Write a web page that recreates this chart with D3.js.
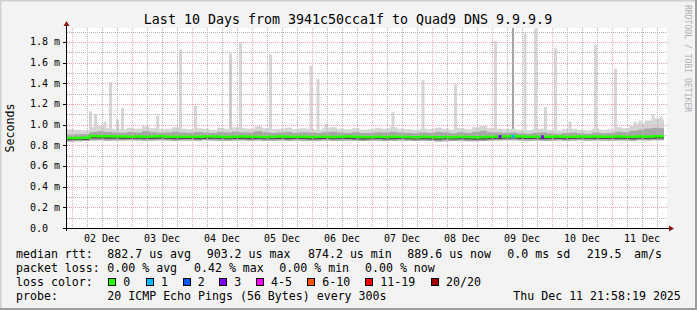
<!DOCTYPE html>
<html>
<head>
<meta charset="utf-8">
<script src="https://cdn.jsdelivr.net/npm/d3@7"></script>
<style>
  body { margin: 0; background: #f3f3f3; }
  svg { display: block; }
  text { font-family: "DejaVu Sans Mono", monospace; fill: #000; }
</style>
</head>
<body>
<svg width="697" height="310"></svg>
<script>
// periodo del grafico (10 dias, muestras de 3 h)
const endTime = Date.UTC(2025, 11, 11, 21, 58, 19)
const startTime = endTime - 10 * 86400000
const sampleHours = 3
const lastDataHour = 238.8

// mediana del rtt (ms)
const median = [
  0.870, 0.871, 0.872, 0.889, 0.888, 0.887, 0.886, 0.885,
  0.884, 0.886, 0.883, 0.885, 0.887, 0.884, 0.882, 0.883,
  0.884, 0.882, 0.885, 0.886, 0.883, 0.881, 0.884, 0.885,
  0.882, 0.884, 0.881, 0.883, 0.885, 0.882, 0.884, 0.883,
  0.880, 0.882, 0.884, 0.881, 0.883, 0.885, 0.882, 0.880,
  0.881, 0.883, 0.880, 0.882, 0.884, 0.881, 0.879, 0.882,
  0.880, 0.878, 0.881, 0.879, 0.882, 0.880, 0.878, 0.880,
  0.882, 0.884, 0.886, 0.888, 0.885, 0.883, 0.884, 0.882,
  0.883, 0.885, 0.882, 0.884, 0.886, 0.883, 0.885, 0.884,
  0.883, 0.885, 0.884, 0.882, 0.886, 0.884, 0.887, 0.888
]
// humo: ping minimo, borde de la banda oscura, banda media, borde claro
const smokeLo = [
  0.838, 0.840, 0.842, 0.846, 0.848, 0.845, 0.847, 0.846,
  0.848, 0.846, 0.845, 0.847, 0.849, 0.846, 0.844, 0.846,
  0.847, 0.845, 0.848, 0.846, 0.844, 0.843, 0.846, 0.847,
  0.845, 0.846, 0.843, 0.845, 0.847, 0.844, 0.846, 0.845,
  0.843, 0.845, 0.846, 0.844, 0.845, 0.847, 0.844, 0.842,
  0.843, 0.845, 0.842, 0.844, 0.846, 0.843, 0.841, 0.844,
  0.842, 0.838, 0.840, 0.841, 0.843, 0.840, 0.839, 0.842,
  0.845, 0.846, 0.848, 0.850, 0.847, 0.845, 0.846, 0.844,
  0.845, 0.847, 0.844, 0.846, 0.848, 0.845, 0.847, 0.846,
  0.845, 0.847, 0.846, 0.844, 0.848, 0.846, 0.849, 0.850
]
const smokeDarkLo = [
  0.850, 0.851, 0.852, 0.866, 0.865, 0.864, 0.863, 0.862,
  0.861, 0.863, 0.860, 0.862, 0.864, 0.861, 0.859, 0.860,
  0.861, 0.859, 0.862, 0.863, 0.860, 0.858, 0.861, 0.862,
  0.859, 0.861, 0.858, 0.860, 0.862, 0.859, 0.861, 0.860,
  0.857, 0.859, 0.861, 0.858, 0.860, 0.862, 0.859, 0.857,
  0.858, 0.860, 0.857, 0.859, 0.861, 0.858, 0.856, 0.859,
  0.857, 0.855, 0.858, 0.856, 0.859, 0.857, 0.855, 0.857,
  0.859, 0.861, 0.863, 0.865, 0.862, 0.860, 0.861, 0.859,
  0.860, 0.862, 0.859, 0.861, 0.863, 0.860, 0.862, 0.861,
  0.860, 0.862, 0.861, 0.859, 0.863, 0.861, 0.864, 0.865
]
const smokeMidHi = [
  0.905, 0.908, 0.910, 0.930, 0.935, 0.928, 0.925, 0.922,
  0.930, 0.924, 0.935, 0.926, 0.922, 0.925, 0.932, 0.924,
  0.922, 0.928, 0.925, 0.918, 0.930, 0.924, 0.932, 0.926,
  0.924, 0.935, 0.926, 0.920, 0.924, 0.930, 0.920, 0.926,
  0.924, 0.918, 0.926, 0.932, 0.924, 0.920, 0.926, 0.918,
  0.920, 0.926, 0.924, 0.932, 0.924, 0.920, 0.916, 0.924,
  0.920, 0.928, 0.924, 0.916, 0.926, 0.920, 0.932, 0.940,
  0.926, 0.924, 0.920, 0.924, 0.916, 0.912, 0.920, 0.924,
  0.916, 0.912, 0.920, 0.924, 0.916, 0.912, 0.924, 0.916,
  0.920, 0.932, 0.926, 0.940, 0.950, 0.962, 0.970, 0.965
]
const smokeHi = [
  0.955, 0.950, 0.945, 0.975, 0.990, 0.965, 0.960, 0.955,
  0.970, 0.960, 0.985, 0.965, 0.955, 0.960, 0.975, 0.960,
  0.955, 0.965, 0.960, 0.950, 0.970, 0.960, 0.975, 0.965,
  0.960, 0.985, 0.965, 0.955, 0.960, 0.970, 0.955, 0.965,
  0.960, 0.950, 0.965, 0.975, 0.960, 0.955, 0.965, 0.950,
  0.955, 0.965, 0.960, 0.975, 0.960, 0.955, 0.950, 0.960,
  0.955, 0.970, 0.960, 0.950, 0.965, 0.955, 0.975, 0.990,
  0.965, 0.960, 0.955, 0.960, 0.950, 0.945, 0.955, 0.960,
  0.950, 0.945, 0.955, 0.960, 0.950, 0.945, 0.960, 0.950,
  0.955, 0.975, 0.965, 0.990, 1.010, 1.040, 1.060, 1.050
]

// picos (horas desde el inicio, ms)
const spikeHours = [9.4, 11.4, 15.2, 17.4, 20.2, 22.2, 36.3, 45.4, 51.4, 65.4, 69.4, 81.4, 97.6, 100.4, 103.6,
  130.4, 142.4, 155.4, 171.4, 183.2, 187.4, 191.4, 195.4, 201.2, 211.4, 219.4, 227.2, 229.2, 234.4, 237.6]
const spikeMax = [1.13, 1.10, 1.03, 1.41, 1.05, 1.16, 1.09, 1.73, 1.18, 1.69, 1.80, 1.68, 1.57, 1.44, 1.01,
  1.12, 1.43, 1.39, 1.81, 1.89, 1.93, 1.17, 1.74, 1.03, 1.77, 1.54, 1.03, 1.04, 1.10, 1.08]
const darkSpikeHours = [65.4, 178.4]
const darkSpikeMax = [1.63, 1.95]

// perdidas de paquetes
const lossHours = [173.2, 178.4, 190.2]
const lossCount = [3, 1, 3]

// ejes y leyenda
const yTicks = [0, 0.2, 0.4, 0.6, 0.8, 1.0, 1.2, 1.4, 1.6, 1.8]
const yTickLabels = ["0.0", "0.2 m", "0.4 m", "0.6 m", "0.8 m", "1.0 m", "1.2 m", "1.4 m", "1.6 m", "1.8 m"]
const yMinor = [0.1, 0.3, 0.5, 0.7, 0.9, 1.1, 1.3, 1.5, 1.7, 1.9]
const lossLabels = ["0", "1", "2", "3", "4-5", "6-10", "11-19", "20/20"]
const lossColors = ["#26ff00", "#00b8ff", "#0059ff", "#7e00ff", "#ff00ff", "#ff5500", "#ff0000", "#a10000"]

const svgWidth = 697
const svgHeight = 310
const plotLeft = 67
const plotRight = 667
const plotTop = 28
const plotBottom = 228

const svg = d3.select("svg")
const hour = 3600000

const xScale = d3.scaleUtc([new Date(startTime), new Date(endTime)], [plotLeft, plotRight])
const yScale = d3.scaleLinear([0, 1.935], [plotBottom, plotTop])

// fondo y borde
svg.append("rect").attr("width", svgWidth).attr("height", svgHeight).attr("fill", "#f3f3f3")
svg.append("path").attr("d", `M0.5,${svgHeight} V0.5 H${svgWidth}`).attr("stroke", "#d0d0d0").attr("stroke-width", 2).attr("fill", "none")
svg.append("path").attr("d", `M0,${svgHeight - 1} H${svgWidth - 1} V0`).attr("stroke", "#9e9e9e").attr("stroke-width", 2).attr("fill", "none")
svg.append("rect")
  .attr("x", plotLeft).attr("y", plotTop)
  .attr("width", plotRight - plotLeft).attr("height", plotBottom - plotTop)
  .attr("fill", "#ffffff")

svg.append("clipPath").attr("id", "plot")
  .append("rect").attr("x", plotLeft).attr("y", plotTop)
  .attr("width", plotRight - plotLeft).attr("height", plotBottom - plotTop)

// datos
const samples = median.map((m, i) => ({
  t: new Date(startTime + i * sampleHours * hour),
  med: m, lo: smokeLo[i], dark: smokeDarkLo[i], mid: smokeMidHi[i], hi: smokeHi[i]
}))
samples.push({ ...samples[samples.length - 1], t: new Date(startTime + lastDataHour * hour) })

const chart = svg.append("g").attr("clip-path", "url(#plot)")

// picos
chart.selectAll(".spike")
  .data(spikeHours.map((h, i) => ({ h, v: spikeMax[i] })))
  .join("rect")
    .attr("x", d => xScale(new Date(startTime + d.h * hour)) - 1.5)
    .attr("width", 3)
    .attr("y", d => yScale(d.v))
    .attr("height", d => yScale(0.9) - yScale(d.v))
    .attr("fill", "#d6d6d6")

chart.selectAll(".dspike")
  .data(darkSpikeHours.map((h, i) => ({ h, v: darkSpikeMax[i] })))
  .join("rect")
    .attr("x", d => xScale(new Date(startTime + d.h * hour)) - 1)
    .attr("width", 2)
    .attr("y", d => yScale(d.v))
    .attr("height", d => yScale(0.9) - yScale(d.v))
    .attr("fill", (d, i) => i === 0 ? "#c6c6c6" : "#a4a4a4")

// humo
const band = (lo, hi, color) => {
  chart.append("path")
    .datum(samples)
    .attr("fill", color)
    .attr("d", d3.area()
      .curve(d3.curveStepAfter)
      .x(d => xScale(d.t))
      .y0(d => yScale(d[lo]))
      .y1(d => yScale(d[hi])))
}
band("lo", "hi", "#d4d4d4")
band("lo", "mid", "#a6a6a6")
band("dark", "med", "#505050")

// grid
const grid = svg.append("g").attr("shape-rendering", "crispEdges").attr("stroke-dasharray", "1,1")
const sixHours = d3.utcHour.every(6).range(new Date(startTime), new Date(endTime))
grid.selectAll(".vmin").data(sixHours.filter(d => d.getUTCHours() !== 0)).join("line")
  .attr("x1", d => Math.round(xScale(d)) + 0.5).attr("x2", d => Math.round(xScale(d)) + 0.5)
  .attr("y1", plotTop).attr("y2", plotBottom)
  .attr("stroke", "#b4b4b4")
grid.selectAll(".hmin").data(yMinor).join("line")
  .attr("x1", plotLeft).attr("x2", plotRight)
  .attr("y1", d => Math.round(yScale(d)) + 0.5).attr("y2", d => Math.round(yScale(d)) + 0.5)
  .attr("stroke", "#b4b4b4")
const days = d3.utcDay.range(new Date(startTime), new Date(endTime))
grid.selectAll(".vmaj").data(days).join("line")
  .attr("x1", d => Math.round(xScale(d)) + 0.5).attr("x2", d => Math.round(xScale(d)) + 0.5)
  .attr("y1", plotTop).attr("y2", plotBottom)
  .attr("stroke", "#f0aaaa")
grid.selectAll(".hmaj").data(yTicks.slice(1)).join("line")
  .attr("x1", plotLeft).attr("x2", plotRight + 2)
  .attr("y1", d => Math.round(yScale(d)) + 0.5).attr("y2", d => Math.round(yScale(d)) + 0.5)
  .attr("stroke", "#f0aaaa")

// mediana coloreada por perdidas
svg.append("path")
  .datum(samples)
  .attr("clip-path", "url(#plot)")
  .attr("fill", "none")
  .attr("stroke", lossColors[0])
  .attr("stroke-width", 2.5)
  .attr("d", d3.line().curve(d3.curveStepAfter).x(d => xScale(d.t)).y(d => yScale(d.med)))

const bisect = d3.bisector(d => d.t).right
svg.selectAll(".loss")
  .data(lossHours.map((h, i) => ({ h, c: lossCount[i] })))
  .join("rect")
    .attr("x", d => xScale(new Date(startTime + d.h * hour)) - 1.5)
    .attr("width", 3)
    .attr("y", d => {
      const s = samples[Math.max(0, bisect(samples, new Date(startTime + d.h * hour)) - 1)]
      return yScale(s.med) - 1.5
    })
    .attr("height", 3)
    .attr("fill", d => lossColors[d.c])

// ejes
svg.append("line").attr("x1", plotLeft - 4).attr("x2", plotRight + 3)
  .attr("y1", plotBottom + 0.5).attr("y2", plotBottom + 0.5).attr("stroke", "#000")
svg.append("line").attr("x1", plotLeft - 0.5).attr("x2", plotLeft - 0.5)
  .attr("y1", plotBottom + 3).attr("y2", plotTop - 3).attr("stroke", "#000")
svg.append("path").attr("d", `M${plotLeft - 3.5},${plotTop - 2} L${plotLeft - 0.5},${plotTop - 7} L${plotLeft + 2.5},${plotTop - 2} Z`).attr("fill", "#8b1a1a")
svg.append("path").attr("d", `M${plotRight + 2},${plotBottom - 2.5} L${plotRight + 7},${plotBottom + 0.5} L${plotRight + 2},${plotBottom + 3.5} Z`).attr("fill", "#8b1a1a")

svg.selectAll(".ytick").data(yTicks).join("line")
  .attr("x1", plotLeft - 4).attr("x2", plotLeft)
  .attr("y1", d => Math.round(yScale(d)) + 0.5).attr("y2", d => Math.round(yScale(d)) + 0.5)
  .attr("stroke", "#000")

svg.selectAll(".ylab").data(yTicks).join("text")
  .attr("x", 30)
  .attr("y", d => yScale(d) + 3.5)
  .attr("font-size", "10px")
  .text((d, i) => yTickLabels[i])

const noons = days.map(d => new Date(+d + 12 * hour)).filter(d => +d < endTime)
svg.selectAll(".xlab").data(noons).join("text")
  .attr("x", d => xScale(d))
  .attr("y", 241.5)
  .attr("text-anchor", "middle")
  .attr("font-size", "10px")
  .text(d3.utcFormat("%d %b"))

// titulo y etiquetas
svg.append("text")
  .attr("x", 348).attr("y", 23.5)
  .attr("text-anchor", "middle")
  .attr("font-size", "13.3px")
  .text("Last 10 Days from 3941c50cca1f to Quad9 DNS 9.9.9.9")

svg.append("text")
  .attr("transform", `translate(14, ${(plotTop + plotBottom) / 2}) rotate(-90)`)
  .attr("text-anchor", "middle")
  .attr("font-size", "11.6px")
  .text("Seconds")

svg.append("text")
  .attr("transform", "translate(685, 5) rotate(90)")
  .attr("font-size", "8.1px")
  .style("fill", "#b0b0b0")
  .text("RRDTOOL / TOBI OETIKER")

// leyenda
const legend = svg.append("g").attr("font-size", "11.6px")
const legendItems = [
  [16, 258, "median rtt:"], [107.3, 258, "882.7 us avg"], [206.7, 258, "903.2 us max"],
  [308, 258, "874.2 us min"], [407.3, 258, "889.6 us now"], [507.3, 258, "0.0 ms sd"],
  [586.7, 258, "219.5"], [634, 258, "am/s"],
  [16, 272, "packet loss:"], [107.3, 272, "0.00 % avg"], [194, 272, "0.42 % max"],
  [279.3, 272, "0.00 % min"], [365, 272, "0.00 % now"],
  [16, 286, "loss color:"],
  [16, 300, "probe:"], [107.3, 300, "20 ICMP Echo Pings (56 Bytes) every 300s"],
  [513.3, 300, "Thu Dec 11 21:58:19 2025"]
]
legend.selectAll("text").data(legendItems).join("text")
  .attr("x", d => d[0]).attr("y", d => d[1])
  .text(d => d[2])

const boxX = [108.3, 146, 182.7, 219.3, 256, 307.3, 365.3, 431]
legend.selectAll(".box").data(lossColors).join("rect")
  .attr("x", (d, i) => Math.round(boxX[i]) + 0.5)
  .attr("y", 278.5)
  .attr("width", 7).attr("height", 7)
  .attr("fill", d => d)
  .attr("stroke", "#000")
legend.selectAll(".lbl").data(lossLabels).join("text")
  .attr("x", (d, i) => boxX[i] + 15)
  .attr("y", 286)
  .text(d => d)
</script>
</body>
</html>
